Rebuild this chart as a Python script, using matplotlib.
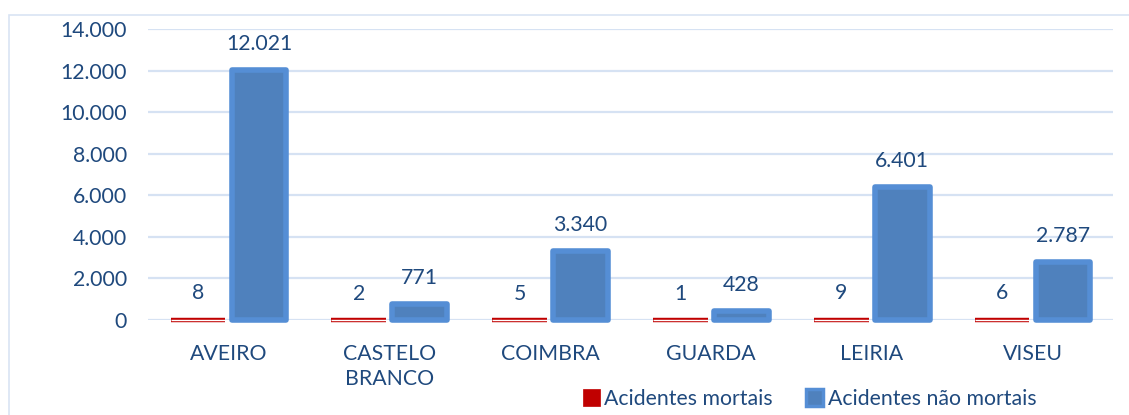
import matplotlib
matplotlib.use("Agg")
import matplotlib.pyplot as plt
from matplotlib.patches import Patch, Rectangle
import matplotlib.patheffects as pe
import numpy as np

categories = ["AVEIRO", "CASTELO\nBRANCO", "COIMBRA", "GUARDA", "LEIRIA", "VISEU"]
mortais = [8, 2, 5, 1, 9, 6]
nao_mortais = [12021, 771, 3340, 428, 6401, 2787]
series_names = ["Acidentes mortais", "Acidentes não mortais"]
yticks = [0, 2000, 4000, 6000, 8000, 10000, 12000, 14000]

def fmt(v):
    return f"{v:,}".replace(",", ".")

plt.rcParams['font.family'] = ['Lato', 'DejaVu Sans']
text_color = '#1F497D'
grid_color = '#D6E2F3'
red = '#C00000'
blue_in = '#4F81BD'
blue_out = '#558ED5'

fig = plt.figure(figsize=(11.29, 4.15), dpi=100)
# outer chart frame
fig.patches.append(Rectangle((9/1129, -0.1), 1.2, 1 - 15/415 + 0.1, transform=fig.transFigure,
                             fill=False, edgecolor='#D9E4F4', linewidth=1.2, zorder=0))

ax = fig.add_axes([148/1129, 1 - 320/415, (1113-148)/1129, (320-29)/415])
x = np.arange(len(categories))
w = 0.34
off = 0.19

ax.set_ylim(0, 14000)
ax.set_xlim(-0.5, len(categories) - 0.5)
ax.set_yticks(yticks)
ax.set_yticklabels([fmt(v) for v in yticks])
ax.yaxis.grid(True, color=grid_color, linewidth=1.6, zorder=0)
ax.set_axisbelow(True)
for s in ax.spines.values():
    s.set_visible(False)
ax.tick_params(axis='both', length=0, labelsize=15.3, labelcolor=text_color)
ax.tick_params(axis='y', pad=15)
ax.tick_params(axis='x', pad=17)
ax.set_xticks(x)
ax.set_xticklabels(categories, linespacing=1.35)

b1 = ax.bar(x - off, mortais, w, color=red, edgecolor=red, linewidth=0.5, zorder=3)
for r in b1:
    r.set_clip_on(False)
    r.set_path_effects([pe.Stroke(linewidth=3.2, foreground=red),
                        pe.Stroke(linewidth=1.0, foreground='white')])
b2 = ax.bar(x + off, nao_mortais, w, color=blue_in, edgecolor=blue_out, linewidth=4,
            joinstyle='round', zorder=3)
for r in b2:
    r.set_clip_on(False)

for xi, v in zip(x - off, mortais):
    ax.annotate(fmt(v), (xi, v), xytext=(0, 19), textcoords='offset points',
                ha='center', va='center', fontsize=15.3, color=text_color)
for xi, v in zip(x + off, nao_mortais):
    ax.annotate(fmt(v), (xi, v), xytext=(0, 18.5), textcoords='offset points',
                ha='center', va='center', fontsize=15.3, color=text_color)

handles = [Patch(facecolor=red, edgecolor=red, linewidth=0.5),
           Patch(facecolor=blue_in, edgecolor=blue_out, linewidth=2.5)]
fig.legend(handles, series_names, loc='center', bbox_to_anchor=(0.717, 1 - 399/415),
           ncol=2, frameon=False, fontsize=15.3, labelcolor=text_color,
           handlelength=0.8, handleheight=0.8, handletextpad=0.2, columnspacing=1.6,
           borderaxespad=0, borderpad=0)

fig.savefig("out.png", dpi=100)
